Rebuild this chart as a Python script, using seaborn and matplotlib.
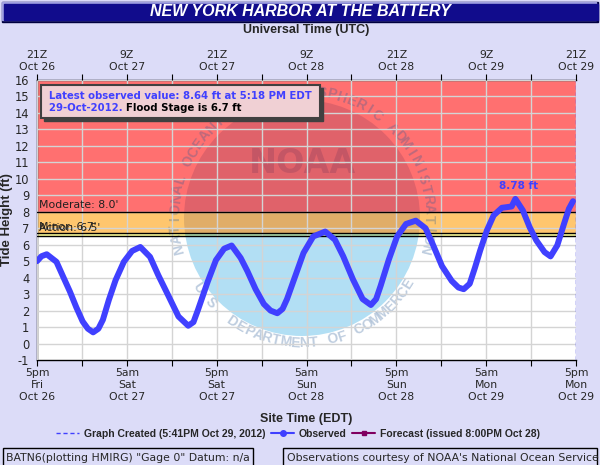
import numpy as np
import pandas as pd
import seaborn as sns
import matplotlib.pyplot as plt
import matplotlib.transforms as mtransforms
from matplotlib.patches import Rectangle, Circle
from matplotlib.lines import Line2D

# observed tide, hours after 5pm EDT Fri Oct 26 2012
hours = [0.0, 0.6, 1.3, 2.6, 3.5, 4.4, 5.25, 6.1, 6.8, 7.5, 8.2, 8.8, 9.6, 10.5, 11.6, 12.7,
         13.8, 15.1, 16.2, 17.5, 18.9, 20.2, 20.9, 21.5, 22.8, 23.9, 25.0, 26.0, 27.2, 28.1,
         29.2, 30.3, 31.2, 32.1, 32.8, 33.4, 34.5, 35.6, 36.9, 38.5, 39.8, 40.9, 42.2, 43.5,
         44.6, 45.3, 45.9, 47.0, 48.1, 49.3, 50.6, 51.9, 52.8, 54.1, 55.4, 56.3, 57.0, 57.8,
         58.5, 59.2, 60.1, 61.0, 62.1, 63.4, 63.9, 64.9, 65.8, 66.7, 67.8, 68.6, 69.5, 70.4,
         71.05, 71.6]
tide_ft = [5.0, 5.3, 5.42, 4.96, 4.05, 3.15, 2.2, 1.34, 0.9, 0.68, 0.9, 1.44, 2.65, 3.85, 4.96, 5.62,
           5.86, 5.26, 4.15, 2.95, 1.64, 1.08, 1.3, 2.04, 3.75, 5.06, 5.76, 5.95, 5.2, 4.4,
           3.3, 2.4, 2.0, 1.84, 2.1, 2.7, 4.1, 5.5, 6.5, 6.8, 6.3, 5.3, 3.9, 2.7,
           2.34, 2.7, 3.5, 5.1, 6.5, 7.26, 7.46, 7.0, 6.1, 4.7, 3.8, 3.4, 3.3, 3.63,
           4.6, 5.65, 6.87, 7.78, 8.24, 8.32, 8.78, 8.08, 7.07, 6.26, 5.55, 5.29, 5.96, 7.27,
           8.18, 8.64]

# flood categories
stage_names = ["Action", "Minor", "Moderate"]
stage_ft = [6.5, 6.7, 8.0]
stage_labels = ["Action: 6.5'", "Minor: 6.7'", "Moderate: 8.0'"]

major_hours = [0, 12, 24, 36, 48, 60, 72]
edt_labels = ["5pm\nFri\nOct 26", "5am\nSat\nOct 27", "5pm\nSat\nOct 27", "5am\nSun\nOct 28",
              "5pm\nSun\nOct 28", "5am\nMon\nOct 29", "5pm\nMon\nOct 29"]
utc_labels = ["21Z\nOct 26", "9Z\nOct 27", "21Z\nOct 27", "9Z\nOct 28",
              "21Z\nOct 28", "9Z\nOct 29", "21Z\nOct 29"]

df = pd.DataFrame({"hours": hours, "tide": tide_ft})

sns.set_theme(style="white")
plt.rcParams["font.family"] = ["DejaVu Sans"]

W, H = 600, 465
BG = "#dcdcf8"
BLUE = "#4040ff"
fig = plt.figure(figsize=(6, 4.65), dpi=100, facecolor=BG)
pxT = mtransforms.Affine2D().scale(1 / W, -1 / H).translate(0, 1) + fig.transFigure

ax = fig.add_axes([37 / W, 1 - 360 / H, 539 / W, 280 / H])
ax.set_facecolor("white")
ax.set_xlim(0, 72)
ax.set_ylim(-1, 16)

# flood bands
ax.axhspan(8.0, 16, color="#ff7070", lw=0, zorder=0.5)
ax.axhspan(6.7, 8.0, color="#ffc66e", lw=0, zorder=0.5)
ax.axhspan(6.5, 6.7, color="#ffff99", lw=0, zorder=0.5)

# NOAA watermark
dark = Circle((302, 218), 118, transform=pxT, color="#000042", alpha=0.12, lw=0, zorder=1)
ax.add_patch(dark)
dark.set_clip_path(Rectangle((0, 0), W, 234, transform=pxT))
light = Circle((302, 218), 118, transform=pxT, color="#0098dc", alpha=0.3, lw=0, zorder=1)
ax.add_patch(light)
light.set_clip_path(Rectangle((0, 234), W, 200, transform=pxT))
ax.text(302, 163, "NOAA", transform=pxT, ha="center", va="center", fontsize=24,
        fontweight="bold", color="#000042", alpha=0.12, zorder=1)
top_txt = "NATIONAL OCEANIC AND ATMOSPHERIC ADMINISTRATION"
for i, ch in enumerate(top_txt):
    th = np.deg2rad(194 - i * 208 / (len(top_txt) - 1))
    ax.text(302 + 127 * np.cos(th), 218 - 127 * np.sin(th), ch, transform=pxT,
            rotation=np.rad2deg(th) - 90, rotation_mode="anchor", ha="center", va="center",
            fontsize=10, fontweight="bold", color="#285a96", alpha=0.3, zorder=1,
            family="Liberation Sans", clip_on=True)
bot_txt = "U.S. DEPARTMENT OF COMMERCE"
for i, ch in enumerate(bot_txt):
    th = np.deg2rad(214 + i * 114 / (len(bot_txt) - 1))
    ax.text(302 + 125 * np.cos(th), 218 - 125 * np.sin(th), ch, transform=pxT,
            rotation=np.rad2deg(th) + 90, rotation_mode="anchor", ha="center", va="center",
            fontsize=10, fontweight="bold", color="#285a96", alpha=0.3, zorder=1,
            family="Liberation Sans", clip_on=True)

# grid
ax.set_axisbelow(False)
ax.set_xticks(major_hours)
ax.set_xticks([6, 18, 30, 42, 54, 66], minor=True)
ax.set_yticks(range(-1, 17))
ax.grid(True, which="both", color="#d4d4d4", lw=1.0)
ax.set_xticklabels(edt_labels, fontsize=7.8, linespacing=1.25)
ax.set_yticklabels([str(v) for v in range(-1, 17)], fontsize=8.3)
ax.tick_params(axis="both", which="both", direction="out", length=4, width=0.8,
               color="black", pad=1.5)
ax.tick_params(axis="x", which="major", pad=2)

for v in stage_ft:
    ax.axhline(v, color="black", lw=1.0, zorder=2.6)
for v, lab, dy in zip(stage_ft, stage_labels, [0.35, 0.2, 0.25]):
    ax.text(0.25, v + dy, lab, fontsize=7.8, color="#202020", zorder=2.7)

ax.axvline(72, color=BLUE, lw=1.0, ls=(0, (3, 2)), zorder=4)

sns.lineplot(data=df, x="hours", y="tide", ax=ax, color=BLUE, lw=4.3,
             estimator=None, sort=False, zorder=3, legend=False)
peak = int(np.argmax(tide_ft))
ax.annotate(f"{tide_ft[peak]:.2f} ft", (hours[peak], tide_ft[peak]), xytext=(2, 7),
            textcoords="offset points", ha="center", fontsize=7.5, fontweight="bold",
            color=BLUE, zorder=5)

for s in ["top", "left", "bottom"]:
    ax.spines[s].set_color("black")
    ax.spines[s].set_linewidth(1.0)
ax.spines["right"].set_visible(False)
ax.set_xlabel("")
ax.set_ylabel("Tide Height (ft)", fontsize=9.5, fontweight="bold", labelpad=1,
              family="Liberation Sans")

# top UTC axis
ax2 = ax.twiny()
ax2.set_xlim(0, 72)
ax2.set_xticks(major_hours)
ax2.set_xticks([6, 18, 30, 42, 54, 66], minor=True)
ax2.set_xticklabels(utc_labels, fontsize=7.8, linespacing=1.25)
ax2.tick_params(axis="x", which="both", direction="out", length=4, width=0.8, color="black", pad=2)
for s in ax2.spines.values():
    s.set_visible(False)
ax2.grid(False)

# info box
ax.add_patch(Rectangle((44, 88), 279, 33, transform=pxT, color="#404040", zorder=5, clip_on=False))
ax.add_patch(Rectangle((41, 85), 279, 33, transform=pxT, facecolor="#f0d0d4",
                       edgecolor="#404040", lw=1.5, zorder=5.1, clip_on=False))
ax.text(49, 96, "Latest observed value: 8.64 ft at 5:18 PM EDT", transform=pxT,
        fontsize=7.3, fontweight="bold", color=BLUE, va="center", zorder=6)
t = ax.text(49, 108, "29-Oct-2012. ", transform=pxT, fontsize=7.3, fontweight="bold",
            color=BLUE, va="center", zorder=6)
ax.annotate("Flood Stage is 6.7 ft", xycoords=t, xy=(1, 0.5), va="center", fontsize=7.3,
            fontweight="bold", color="black", zorder=6)

# header bar
fig.patches.append(Rectangle((2, 2), 596, 20, transform=pxT, color="#000040", zorder=0))
fig.patches.append(Rectangle((2, 2), 594, 18, transform=pxT, color="#a0a0e0", zorder=0))
fig.patches.append(Rectangle((4, 4), 594, 16, transform=pxT, color="#110c8c", zorder=0))
fig.text(300, 12, "NEW YORK HARBOR AT THE BATTERY", transform=pxT, ha="center", va="center",
         fontsize=11.5, fontweight="bold", style="italic", color="white", family="Liberation Sans")
fig.text(306, 30, "Universal Time (UTC)", transform=pxT, ha="center", va="center",
         fontsize=9, fontweight="bold", family="Liberation Sans")
fig.text(306, 419, "Site Time (EDT)", transform=pxT, ha="center", va="center",
         fontsize=9, fontweight="bold", family="Liberation Sans")

handles = [Line2D([], [], color=BLUE, lw=1, ls=(0, (3, 2))),
           Line2D([], [], color=BLUE, lw=1.5, marker="o", ms=4),
           Line2D([], [], color="#800060", lw=1.5, marker="s", ms=3)]
labels = ["Graph Created (5:41PM Oct 29, 2012)", "Observed", "Forecast (issued 8:00PM Oct 28)"]
fig.legend(handles, labels, loc="center", bbox_to_anchor=(298 / W, 1 - 434 / H), ncol=3,
           frameon=False, prop={"family": "Liberation Sans", "weight": "bold", "size": 7.5},
           handlelength=2.2, handletextpad=0.4, columnspacing=0.6)

# footer boxes
fig.patches.append(Rectangle((3, 448), 250, 20, transform=pxT, facecolor=BG, edgecolor="black", lw=1))
fig.patches.append(Rectangle((283, 448), 314, 20, transform=pxT, facecolor=BG, edgecolor="black", lw=1))
fig.text(6, 458, 'BATN6(plotting HMIRG) "Gage 0" Datum: n/a', transform=pxT, va="center", fontsize=7.8)
fig.text(287, 458, "Observations courtesy of NOAA's National Ocean Service", transform=pxT,
         va="center", fontsize=7.8)

fig.savefig("out.png", dpi=100, facecolor=BG)
